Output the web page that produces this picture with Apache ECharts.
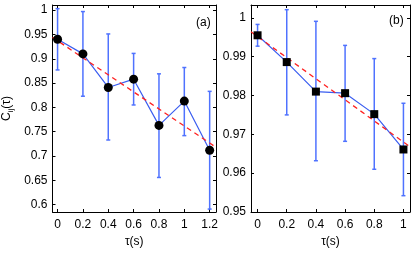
<!DOCTYPE html>
<html><head><meta charset="utf-8">
<script src="https://cdn.jsdelivr.net/npm/echarts@6/dist/echarts.min.js"></script>
<style>html,body{margin:0;padding:0;background:#fff}#c{width:415px;height:253px}</style>
</head><body><div id="c"></div>
<script>
// Panel (a)
const tauA = [0, 0.2, 0.4, 0.6, 0.8, 1.0, 1.2];
const valA = [0.940, 0.910, 0.841, 0.858, 0.763, 0.813, 0.712];
const lowA = [0.877, 0.823, 0.733, 0.805, 0.656, 0.742, 0.591];
const highA = [1.003, 0.997, 0.951, 0.911, 0.869, 0.882, 0.833];
const fitA = [[-0.04, 0.944], [1.25, 0.718]];
const xTicksA = [0, 0.2, 0.4, 0.6, 0.8, 1, 1.2];
const yTicksA = [0.6, 0.65, 0.7, 0.75, 0.8, 0.85, 0.9, 0.95, 1];
// Panel (b)
const tauB = [0, 0.2, 0.4, 0.6, 0.8, 1.0];
const valB = [0.9955, 0.9886, 0.9810, 0.9806, 0.9752, 0.9661];
const lowB = [0.9927, 0.9750, 0.9632, 0.9682, 0.9610, 0.9542];
const highB = [0.9983, 1.0021, 0.9991, 0.9929, 0.9895, 0.9780];
const fitB = [[-0.045, 0.9964], [1.045, 0.9668]];
const xTicksB = [0, 0.2, 0.4, 0.6, 0.8, 1];
const yTicksB = [0.95, 0.96, 0.97, 0.98, 0.99, 1];

const FONT = 'Liberation Sans';
const FS = 12;
const BLUE = '#3a5df0';
const EBLUE = '#4f72ff';
const RED = '#ff2020';

function xAxes(gi, min, max, ticks, name, top) {
  return {
    type: 'value', gridIndex: gi, min: min, max: max, position: top ? 'top' : 'bottom',
    name: top ? '' : name, nameLocation: 'middle', nameGap: 24,
    nameTextStyle: { fontFamily: FONT, fontSize: FS, color: '#000' },
    axisLine: { show: true, onZero: false, lineStyle: { color: '#000', width: 1 } },
    axisTick: { show: true, inside: true, length: 3, customValues: ticks, lineStyle: { color: '#000' } },
    axisLabel: { show: !top, customValues: ticks, fontFamily: FONT, fontSize: FS, color: '#000', margin: 7,
      formatter: v => String(+v.toFixed(3)) },
    splitLine: { show: false }
  };
}
function yAxes(gi, min, max, ticks, right, name) {
  return {
    type: 'value', gridIndex: gi, min: min, max: max, position: right ? 'right' : 'left',
    name: name || '', nameLocation: 'middle', nameGap: 38, nameRotate: 90,
    nameTextStyle: { fontFamily: FONT, fontSize: FS, color: '#000',
      rich: { n: { fontFamily: FONT, fontSize: FS, color: '#000' },
              s: { fontFamily: FONT, fontSize: 8, color: '#000', padding: [7, 0, 0, 0] } } },
    axisLine: { show: true, onZero: false, lineStyle: { color: '#000', width: 1 } },
    axisTick: { show: true, inside: true, length: 3, customValues: ticks, lineStyle: { color: '#000' } },
    axisLabel: { show: !right, customValues: ticks, fontFamily: FONT, fontSize: FS, color: '#000', margin: 5,
      formatter: v => String(+v.toFixed(3)) },
    splitLine: { show: false }
  };
}
function errSeries(xi, yi, xs, lo, hi) {
  return {
    type: 'custom', xAxisIndex: xi, yAxisIndex: yi, z: 2,
    data: xs.map((x, i) => [x, lo[i], hi[i]]),
    renderItem: function (params, api) {
      const p1 = api.coord([api.value(0), api.value(1)]);
      const p2 = api.coord([api.value(0), api.value(2)]);
      const w = 2;
      const st = { stroke: EBLUE, lineWidth: 1.5 };
      return { type: 'group', children: [
        { type: 'line', shape: { x1: p1[0], y1: p1[1], x2: p2[0], y2: p2[1] }, style: st },
        { type: 'line', shape: { x1: p1[0] - w, y1: p1[1], x2: p1[0] + w, y2: p1[1] }, style: st },
        { type: 'line', shape: { x1: p2[0] - w, y1: p2[1], x2: p2[0] + w, y2: p2[1] }, style: st }
      ] };
    }
  };
}
function lineSeries(xi, yi, xs, ys, symbol, size) {
  return [{
    type: 'line', xAxisIndex: xi, yAxisIndex: yi, z: 3, symbol: 'none',
    data: xs.map((x, i) => [x, ys[i]]),
    lineStyle: { color: BLUE, width: 1.2 }
  }, {
    type: 'scatter', xAxisIndex: xi, yAxisIndex: yi, z: 6, symbol: symbol, symbolSize: size,
    data: xs.map((x, i) => [x, ys[i]]),
    itemStyle: { color: '#000', opacity: 1 }
  }];
}
function fitSeries(xi, yi, pts) {
  return {
    type: 'line', xAxisIndex: xi, yAxisIndex: yi, z: 4, symbol: 'none', data: pts,
    lineStyle: { color: RED, width: 1.3, type: [5, 4] }
  };
}

const chart = echarts.init(document.getElementById('c'), null, { renderer: 'canvas' });
chart.setOption({
  animation: false,
  backgroundColor: '#fff',
  grid: [
    { left: 51, top: 5, width: 165, height: 214 },
    { left: 251, top: 5, width: 159, height: 214 }
  ],
  xAxis: [
    xAxes(0, -0.04, 1.25, xTicksA, 'τ(s)', false),
    xAxes(0, -0.04, 1.25, xTicksA, '', true),
    xAxes(1, -0.045, 1.045, xTicksB, 'τ(s)', false),
    xAxes(1, -0.045, 1.045, xTicksB, '', true)
  ],
  yAxis: [
    yAxes(0, 0.585, 1.0105, yTicksA, false, '{n|C}{s|ij}{n|(τ)}'),
    yAxes(0, 0.585, 1.0105, yTicksA, true),
    yAxes(1, 0.95, 1.0033, yTicksB, false),
    yAxes(1, 0.95, 1.0033, yTicksB, true)
  ],
  series: [
    errSeries(0, 0, tauA, lowA, highA),
    ...lineSeries(0, 0, tauA, valA, 'circle', 9),
    fitSeries(0, 0, fitA),
    errSeries(2, 2, tauB, lowB, highB),
    ...lineSeries(2, 2, tauB, valB, 'rect', 8),
    fitSeries(2, 2, fitB)
  ],
  graphic: [
    { type: 'text', left: 196, top: 17, style: { text: '(a)', font: '12px "Liberation Sans"', fill: '#000' } },
    { type: 'text', left: 389, top: 15, style: { text: '(b)', font: '12px "Liberation Sans"', fill: '#000' } }
  ]
});
</script></body></html>
